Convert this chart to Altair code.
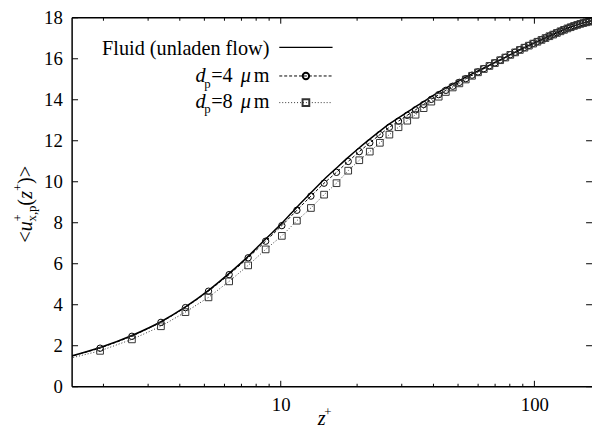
import altair as alt
import pandas as pd

# ---------------- data ----------------
z_plus = [1.30, 1.94, 2.59, 3.37, 4.21, 5.19, 6.26, 7.44, 8.72, 10.10,
          11.58, 13.15, 14.82, 16.59, 18.45, 20.40, 22.44, 24.59, 26.81, 29.13,
          31.53, 34.00, 36.58, 39.23, 41.95, 44.76, 47.65, 50.61, 53.64, 56.76,
          59.93, 63.18, 66.49, 69.86, 73.30, 76.80, 80.35, 83.96, 87.63, 91.34,
          95.11, 98.92, 102.78, 106.68, 110.61, 114.59, 118.60, 122.64, 126.71, 130.81,
          134.94, 139.08, 143.26, 147.45, 151.65, 155.87, 160.09, 164.32, 168.56, 172.80]

u_fluid = [1.30, 1.91, 2.50, 3.17, 3.89, 4.70, 5.53, 6.36, 7.21, 7.97,
           8.76, 9.46, 10.11, 10.67, 11.19, 11.66, 12.08, 12.47, 12.82, 13.12,
           13.40, 13.66, 13.91, 14.15, 14.37, 14.57, 14.76, 14.93, 15.10, 15.26,
           15.41, 15.55, 15.69, 15.82, 15.94, 16.07, 16.20, 16.32, 16.44, 16.55,
           16.65, 16.75, 16.84, 16.93, 17.02, 17.11, 17.19, 17.27, 17.35, 17.42,
           17.49, 17.55, 17.61, 17.66, 17.71, 17.75, 17.79, 17.82, 17.85, 17.87]

u_4um = [1.28, 1.88, 2.46, 3.14, 3.86, 4.66, 5.47, 6.29, 7.10, 7.86,
         8.61, 9.30, 9.93, 10.46, 10.99, 11.47, 11.90, 12.30, 12.66, 12.96,
         13.24, 13.51, 13.77, 14.02, 14.25, 14.46, 14.66, 14.85, 15.03, 15.20,
         15.36, 15.52, 15.66, 15.80, 15.94, 16.07, 16.20, 16.32, 16.44, 16.55,
         16.65, 16.75, 16.84, 16.93, 17.02, 17.11, 17.19, 17.27, 17.35, 17.42,
         17.49, 17.55, 17.61, 17.66, 17.71, 17.75, 17.79, 17.82, 17.85, 17.87]

u_8um = [1.22, 1.75, 2.31, 2.95, 3.64, 4.36, 5.14, 5.92, 6.70, 7.36,
         8.10, 8.72, 9.37, 9.93, 10.54, 11.05, 11.47, 11.90, 12.30, 12.66,
         12.98, 13.27, 13.59, 13.91, 14.15, 14.38, 14.60, 14.80, 14.99, 15.17,
         15.34, 15.50, 15.65, 15.79, 15.93, 16.06, 16.19, 16.31, 16.43, 16.54,
         16.64, 16.74, 16.83, 16.92, 17.01, 17.10, 17.18, 17.26, 17.34, 17.41,
         17.48, 17.54, 17.60, 17.65, 17.70, 17.74, 17.78, 17.81, 17.84, 17.86]

y_ticks = [0, 2, 4, 6, 8, 10, 12, 14, 16, 18]
x_major = [10, 100]
x_minor = [2, 3, 4, 5, 6, 7, 8, 9, 20, 30, 40, 50, 60, 70, 80, 90]

# ---------------- layout ----------------
W, H = 527, 374
FONT = "Liberation Serif, DejaVu Serif, serif"
LEG = 20.5
one = pd.DataFrame({"a": [0]})

xs = alt.Scale(type="log", domain=[1.505, 168.7], nice=False)
ys = alt.Scale(domain=[0, 18], nice=False, zero=False)

X = alt.X("z:Q", scale=xs,
          axis=alt.Axis(values=x_major, format="d", ticks=False, domain=False, grid=False,
                        labelFont=FONT, labelFontSize=19, labelColor="black",
                        labelPadding=9, title=None))
Y = alt.Y("u:Q", scale=ys,
          axis=alt.Axis(values=y_ticks, ticks=False, domain=False, grid=False,
                        labelFont=FONT, labelFontSize=19, labelColor="black",
                        labelPadding=10, title=None))


def sdf(u):
    return pd.DataFrame({"z": z_plus, "u": u})


fluid_line = alt.Chart(sdf(u_fluid)).mark_line(color="black", strokeWidth=1.5, clip=True,
                                               interpolate="monotone").encode(x=X, y=Y)
d4_line = alt.Chart(sdf(u_4um)).mark_line(color="black", strokeWidth=1, strokeDash=[3, 2], clip=True).encode(x=X, y=Y)
d8_line = alt.Chart(sdf(u_8um)).mark_line(color="#333333", strokeWidth=1, strokeDash=[1, 2], clip=True).encode(x=X, y=Y)
d4_pts = alt.Chart(sdf(u_4um)).mark_point(shape="circle", size=42, filled=False, color="black",
                                         strokeWidth=1, opacity=1, clip=True).encode(x=X, y=Y)
d8_pts = alt.Chart(sdf(u_8um)).mark_point(shape="square", size=46, filled=False, color="#333333",
                                         strokeWidth=1, opacity=1, clip=True).encode(x=X, y=Y)

# frame
frame_left = alt.Chart(one).mark_rule(color="black", strokeWidth=1.5).encode(
    x=alt.value(0), y=alt.value(0), y2=alt.value(H))
frame_top = alt.Chart(one).mark_rule(color="black", strokeWidth=1.5).encode(
    x=alt.value(0), x2=alt.value(W), y=alt.value(0))
frame_bottom = alt.Chart(one).mark_rule(color="black", strokeWidth=1.5).encode(
    x=alt.value(0), x2=alt.value(W), y=alt.value(H))

# inward ticks
ytdf = pd.DataFrame({"u": y_ticks})
yt_left = alt.Chart(ytdf).mark_rule(color="black", strokeWidth=1).encode(
    y=Y, x=alt.value(0), x2=alt.value(6))
yt_right = alt.Chart(ytdf).mark_rule(color="black", strokeWidth=1).encode(
    y=Y, x=alt.value(W - 6), x2=alt.value(W))
xmaj = pd.DataFrame({"z": x_major})
xmin = pd.DataFrame({"z": x_minor})
xt_maj_b = alt.Chart(xmaj).mark_rule(color="black", strokeWidth=1).encode(
    x=X, y=alt.value(H - 6), y2=alt.value(H))
xt_maj_t = alt.Chart(xmaj).mark_rule(color="black", strokeWidth=1).encode(
    x=X, y=alt.value(0), y2=alt.value(6))
xt_min_b = alt.Chart(xmin).mark_rule(color="black", strokeWidth=1).encode(
    x=X, y=alt.value(H - 3), y2=alt.value(H))
xt_min_t = alt.Chart(xmin).mark_rule(color="black", strokeWidth=1).encode(
    x=X, y=alt.value(0), y2=alt.value(3))


def txt(s, x, y, size=LEG, style="normal", align="left", angle=0):
    return alt.Chart(one).mark_text(text=s, font=FONT, fontSize=size, fontStyle=style,
                                    align=align, baseline="alphabetic", angle=angle,
                                    color="black").encode(x=alt.value(x), y=alt.value(y))


# legend (plot coordinates)
leg = [
    txt("Fluid (unladen flow)", 200, 38, align="right"),
    alt.Chart(one).mark_rule(color="black", strokeWidth=1.5).encode(
        x=alt.value(210), x2=alt.value(264), y=alt.value(30)),
    # d_p = 4 um
    txt("d", 125, 65, style="italic"),
    txt("p", 134, 71, size=13),
    txt("=4", 141, 65),
    txt("\u03bc", 171, 65, style="italic"),
    txt("m", 200, 65, align="right"),
    alt.Chart(one).mark_rule(color="black", strokeWidth=1, strokeDash=[3, 2]).encode(
        x=alt.value(210), x2=alt.value(264), y=alt.value(59)),
    alt.Chart(one).mark_point(shape="circle", size=42, filled=False, color="black", opacity=1).encode(
        x=alt.value(237), y=alt.value(59)),
    # d_p = 8 um
    txt("d", 125, 91, style="italic"),
    txt("p", 134, 97, size=13),
    txt("=8", 141, 91),
    txt("\u03bc", 171, 91, style="italic"),
    txt("m", 200, 91, align="right"),
    alt.Chart(one).mark_rule(color="#333333", strokeWidth=1, strokeDash=[1, 2]).encode(
        x=alt.value(210), x2=alt.value(264), y=alt.value(86)),
    alt.Chart(one).mark_point(shape="square", size=46, filled=False, color="#333333", opacity=1).encode(
        x=alt.value(237), y=alt.value(86)),
]

# axis titles
xt = [txt("z", 249, 413, style="italic"), txt("+", 255.5, 404, size=13)]
yt = [
    txt("<", -41, 228, angle=270),
    txt("u", -41, 216.5, style="italic", angle=270),
    txt("+", -51, 206.5, size=13, angle=270),
    txt("x,p", -37, 206.5, size=13, angle=270),
    txt("(", -41, 190.5, angle=270),
    txt("z", -41, 183.5, style="italic", angle=270),
    txt("+", -51, 175.5, size=13, angle=270),
    txt(")>", -41, 168.5, angle=270),
]

chart = alt.layer(
    fluid_line, d4_line, d8_line, d4_pts, d8_pts,
    frame_left, frame_top, frame_bottom,
    yt_left, yt_right, xt_maj_b, xt_maj_t, xt_min_b, xt_min_t,
    *leg, *xt, *yt,
).properties(
    width=W, height=H,
    autosize=alt.AutoSizeParams(type="none"),
    padding={"left": 65, "top": 7, "right": 0, "bottom": 44},
).configure_view(stroke="transparent")

chart.save("out.html", embed_options={"renderer": "svg", "actions": False})
